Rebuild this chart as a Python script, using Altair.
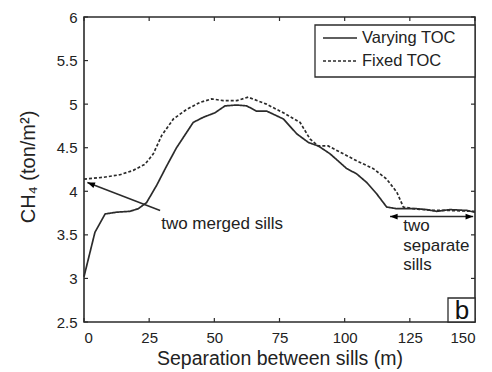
import altair as alt
import pandas as pd

# ---- data ----
x_vary = [0, 4.2, 8.1, 12.5, 17.6, 20.8, 24, 27.9, 31.7, 35.5, 41.9, 45.8, 50.2, 54.1, 58.6, 62.4,
          66.2, 70.1, 76.5, 81.6, 86.1, 89.9, 94.4, 100.8, 104.6, 108.5, 112.3, 116.1, 120, 127.6,
          131.4, 135.3, 140.4, 146.8, 150]
y_vary = [3.02, 3.53, 3.74, 3.76, 3.77, 3.80, 3.87, 4.07, 4.29, 4.50, 4.79, 4.85, 4.90, 4.98, 4.99, 4.98,
          4.92, 4.92, 4.83, 4.66, 4.56, 4.52, 4.43, 4.26, 4.20, 4.10, 3.97, 3.82, 3.80, 3.80,
          3.79, 3.77, 3.79, 3.78, 3.76]
x_fixed = [0, 7.4, 13.8, 18.9, 23.4, 26.6, 29.8, 34.3, 39.4, 44.5, 49, 53.4, 58.6, 63, 70, 76.5,
           82.9, 86.7, 89.9, 93.7, 98.2, 104.6, 111, 116.1, 120, 122.5, 126.3, 134, 140.4, 150]
y_fixed = [4.14, 4.16, 4.19, 4.24, 4.31, 4.43, 4.64, 4.83, 4.94, 5.02, 5.06, 5.04, 5.04, 5.08, 5.00, 4.90,
           4.79, 4.60, 4.52, 4.52, 4.45, 4.35, 4.26, 4.14, 3.99, 3.82, 3.80, 3.78, 3.78, 3.77]
series_names = ["Varying TOC", "Fixed TOC"]

x_ticks = [0, 25, 50, 75, 100, 125, 150]
y_ticks = [2.5, 3, 3.5, 4, 4.5, 5, 5.5, 6]

# annotations
merged_text = "two merged sills"
merged_text_pos = (29.6, 3.625)
merged_arrow = (29.2, 3.78, 1.3, 4.10)   # tail x, tail y, tip x, tip y
separate_lines = ["two", "separate", "sills"]
separate_x = 122.5
separate_y = [3.606, 3.377, 3.159]
separate_arrow = (117.4, 149.3, 3.71)     # x left, x right, y
panel_letter = "b"

FONT = "Liberation Sans"
INK = "#2b2b2b"
W, H = 391, 305

df = pd.concat([
    pd.DataFrame({"x": x_vary, "y": y_vary, "s": series_names[0]}),
    pd.DataFrame({"x": x_fixed, "y": y_fixed, "s": series_names[1]}),
])

xs = alt.Scale(domain=[0, 150], nice=False, zero=False)
ys = alt.Scale(domain=[2.5, 6], nice=False, zero=False)

x_axis = alt.Axis(values=x_ticks, title="Separation between sills (m)", domain=False, ticks=False,
                  grid=False, labelFont=FONT, labelFontSize=15, labelColor="#222", labelPadding=8,
                  titleFont=FONT, titleFontSize=19.5, titleFontWeight="normal", titleColor="#222",
                  titleY=36, titleBaseline="middle", titleX=W / 2)
y_axis = alt.Axis(values=y_ticks, title="CH₄ (ton/m²)", domain=False, ticks=False, grid=False,
                  labelExpr="format(datum.value, '~g')", labelFont=FONT, labelFontSize=15,
                  labelColor="#222", labelPadding=7, titleFont=FONT, titleFontSize=20,
                  titleFontWeight="normal", titleColor="#222", titleAngle=270, titleX=-56,
                  titleY=H / 2 - 3, titleAlign="center", titleBaseline="middle")

lines = alt.Chart(df).mark_line(color=INK, strokeWidth=1.7).encode(
    x=alt.X("x:Q", scale=xs, axis=x_axis),
    y=alt.Y("y:Q", scale=ys, axis=y_axis),
    strokeDash=alt.StrokeDash("s:N", scale=alt.Scale(domain=series_names, range=[[1, 0], [3, 2]]),
                              legend=None),
    detail="s:N",
)

# inward ticks on all four sides
xt = pd.DataFrame({"t": x_ticks})
yt = pd.DataFrame({"t": y_ticks})
tick_style = dict(color=INK, strokeWidth=1.2)
tb = alt.Chart(xt).mark_rule(**tick_style).encode(x=alt.X("t:Q", scale=xs), y=alt.value(H), y2=alt.value(H - 4))
tt = alt.Chart(xt).mark_rule(**tick_style).encode(x=alt.X("t:Q", scale=xs), y=alt.value(0), y2=alt.value(4))
tl = alt.Chart(yt).mark_rule(**tick_style).encode(y=alt.Y("t:Q", scale=ys), x=alt.value(0), x2=alt.value(4))
tr = alt.Chart(yt).mark_rule(**tick_style).encode(y=alt.Y("t:Q", scale=ys), x=alt.value(W), x2=alt.value(W - 4))

# annotation arrows
arr = pd.DataFrame({
    "x": [merged_arrow[0], separate_arrow[0]],
    "y": [merged_arrow[1], separate_arrow[2]],
    "x2": [merged_arrow[2], separate_arrow[1]],
    "y2": [merged_arrow[3], separate_arrow[2]],
})
arrow_lines = alt.Chart(arr).mark_rule(color=INK, strokeWidth=1.5).encode(
    x=alt.X("x:Q", scale=xs), y=alt.Y("y:Q", scale=ys), x2="x2:Q", y2="y2:Q")

heads = pd.DataFrame({
    "x": [merged_arrow[2], separate_arrow[0], separate_arrow[1]],
    "y": [merged_arrow[3], separate_arrow[2], separate_arrow[2]],
    "a": [291, 270, 90],
})
arrow_heads = alt.Chart(heads).mark_point(
    shape="M0,0L-0.38,1L0.38,1Z", filled=True, color="black", opacity=1, size=230, strokeWidth=0
).encode(x=alt.X("x:Q", scale=xs), y=alt.Y("y:Q", scale=ys), angle=alt.Angle("a:Q", scale=None))

merged_df = pd.DataFrame({"x": [merged_text_pos[0]], "y": [merged_text_pos[1]], "t": [merged_text]})
merged_txt = alt.Chart(merged_df).mark_text(align="left", baseline="middle", font=FONT, fontSize=17,
                                            color="#222").encode(
    x=alt.X("x:Q", scale=xs), y=alt.Y("y:Q", scale=ys), text="t:N")

sep_df = pd.DataFrame({"x": [separate_x] * 3, "y": separate_y, "t": separate_lines})
sep_txt = alt.Chart(sep_df).mark_text(align="left", baseline="middle", font=FONT, fontSize=17,
                                      color="#222").encode(
    x=alt.X("x:Q", scale=xs), y=alt.Y("y:Q", scale=ys), text="t:N")

# legend box (drawn by hand, inside the top-right corner)
leg_box = alt.Chart(pd.DataFrame({"k": [0]})).mark_rect(fill="white", stroke=INK, strokeWidth=1.3).encode(
    x=alt.value(231), x2=alt.value(W), y=alt.value(8), y2=alt.value(60))
leg_df = pd.DataFrame({"s": series_names, "ly": [21, 44]})
leg_lines = alt.Chart(leg_df).mark_rule(color=INK, strokeWidth=1.6).encode(
    x=alt.value(239), x2=alt.value(273), y=alt.Y("ly:Q", scale=None),
    strokeDash=alt.StrokeDash("s:N", scale=alt.Scale(domain=series_names, range=[[1, 0], [3, 2]]),
                              legend=None))
leg_text = alt.Chart(leg_df).mark_text(align="left", baseline="middle", font=FONT, fontSize=16.5,
                                       color="#222").encode(
    x=alt.value(278), y=alt.Y("ly:Q", scale=None), text="s:N")

# panel letter box
b_box = alt.Chart(pd.DataFrame({"k": [0]})).mark_rect(fill="white", stroke=INK, strokeWidth=1.3).encode(
    x=alt.value(364), x2=alt.value(W), y=alt.value(281), y2=alt.value(H))
b_txt = alt.Chart(pd.DataFrame({"t": [panel_letter]})).mark_text(
    align="center", baseline="alphabetic", font=FONT, fontSize=26, color="#111").encode(
    x=alt.value(378), y=alt.value(302), text="t:N")

chart = alt.layer(
    lines, tb, tt, tl, tr, arrow_lines, arrow_heads, merged_txt, sep_txt,
    leg_box, leg_lines, leg_text, b_box, b_txt
).properties(
    width=W, height=H,
    autosize=alt.AutoSizeParams(type="none"),
    padding={"left": 84, "top": 17, "right": 17, "bottom": 50},
    background="white",
).configure_view(stroke=INK, strokeWidth=1.6)

chart.save("out.html", embed_options={"renderer": "svg", "actions": False})
